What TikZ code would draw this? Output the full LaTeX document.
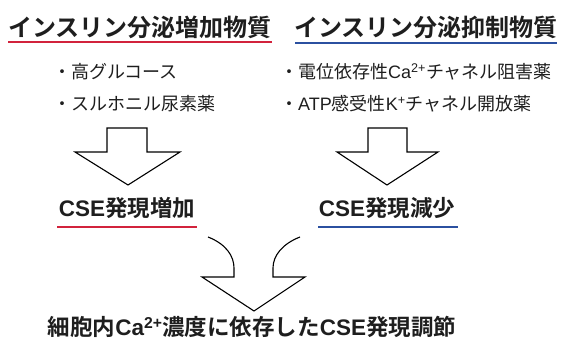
\documentclass[tikz,border=0pt]{standalone}
\usepackage{fontspec}
\setmainfont{Noto Sans CJK JP}
\newfontfamily\jpb{Noto Sans CJK JP Bold}
\newfontfamily\lat{Liberation Sans}
\definecolor{txt}{HTML}{1E1E1E}
\definecolor{ured}{HTML}{D2233C}
\definecolor{ublue}{HTML}{2B50A0}
\begin{document}
\begin{tikzpicture}[x=1pt,y=-1pt,
  title/.style={font=\jpb\fontsize{24}{26}\selectfont, text=txt, inner sep=0pt},
  bullet/.style={font=\fontsize{18}{20}\selectfont, text=txt, inner sep=0pt, anchor=west},
  result/.style={font=\jpb\fontsize{22.5}{24}\selectfont, text=txt, inner sep=0pt},
  uline/.style={line width=2pt},
  bigarrow/.style={draw=black, line width=1.1pt, line join=miter, fill=white}]
\useasboundingbox (0,0) rectangle (570,353);
% titles
\node[title] (t1) at (140,27) {インスリン分泌増加物質};
\node[title] (t2) at (426,27) {インスリン分泌抑制物質};
\draw[uline, ured] (8,42) -- (272,42);
\draw[uline, ublue] (295,43) -- (557,43);
% bullets
\node[bullet] (b1) at (53,72) {・高グルコース};
\node[bullet] (b2) at (53,104) {・スルホニル尿素薬};
\node[bullet] (b3) at (280,72) {・電位依存性{\lat Ca\textsuperscript{2+}}チャネル阻害薬};
\node[bullet] (b4) at (280,104) {・{\lat ATP}感受性{\lat K\textsuperscript{+}}チャネル開放薬};
% top arrows
\draw[bigarrow] (107,128) -- (147,128) -- (147,152) -- (180,152) -- (128,185) -- (75,152) -- (107,152) -- cycle;
\draw[bigarrow] (368,128) -- (407,128) -- (407,152) -- (438,152) -- (387,185) -- (337,152) -- (368,152) -- cycle;
% results
\node[result] (r1) at (127,208) {{\lat\bfseries CSE}発現増加};
\node[result] (r2) at (387,208) {{\lat\bfseries CSE}発現減少};
\draw[uline, ured] (57,227) -- (197,227);
\draw[uline, ublue] (318,227) -- (458,227);
% bottom merging arrow
\draw[bigarrow, fill=none] (208,237) .. controls (226,244) and (234,256) .. (234,268) -- (234,277)
  -- (202,277) -- (254,311) -- (305,277) -- (273,277) -- (273,268)
  .. controls (273,256) and (282,244) .. (300,237);
\node[result] (bottom) at (252,327) {細胞内{\lat\bfseries Ca\textsuperscript{2+}}濃度に依存した{\lat\bfseries CSE}発現調節};
\end{tikzpicture}
\end{document}
